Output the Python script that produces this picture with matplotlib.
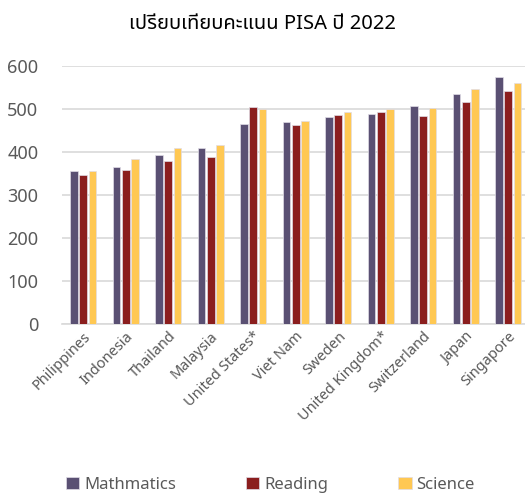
import matplotlib
matplotlib.use("Agg")
import matplotlib.pyplot as plt
import numpy as np

countries = ["Philippines", "Indonesia", "Thailand", "Malaysia", "United States*",
             "Viet Nam", "Sweden", "United Kingdom*", "Switzerland", "Japan", "Singapore"]
math = [355, 366, 394, 409, 465, 469, 482, 489, 508, 536, 575]
reading = [347, 359, 379, 388, 504, 462, 487, 494, 483, 516, 543]
science = [356, 383, 409, 416, 499, 472, 494, 500, 503, 547, 561]
names = ["Mathmatics", "Reading", "Science"]

plt.rcParams['font.family'] = ['Noto Sans Thai', 'DejaVu Sans']

fig = plt.figure(figsize=(5.25, 4.93), dpi=100)
ax = fig.add_axes([62/525, 1-324/493, 467.5/525, 258/493])

x = np.arange(len(countries))
w = 0.18
step = 0.22
cols = ["#5A5073", "#8B1E1E", "#FFC853"]
for i, (vals, c, n) in enumerate(zip([math, reading, science], cols, names)):
    ax.bar(x + (i-1)*step, vals, w, color=c, label=n, edgecolor="#e0dde6", linewidth=0.5, zorder=3)

ax.set_xlim(-0.5, len(countries)-0.5)
ax.set_ylim(0, 600)
ax.set_yticks(range(0, 601, 100))
ax.grid(axis="y", color="#d9d9d9", linewidth=1.2, zorder=0)
for s in ["top", "right", "left"]:
    ax.spines[s].set_visible(False)
ax.spines["bottom"].set_color("#d9d9d9")
ax.spines["bottom"].set_linewidth(1.2)
ax.tick_params(axis="both", length=0, colors="#595959")
ax.tick_params(axis="y", labelsize=13, pad=17)
ax.set_xticks(x)
ax.set_xticklabels(countries, rotation=45, ha="right", rotation_mode="anchor", fontsize=10.5)

fig.suptitle("เปรียบเทียบคะแนน PISA ปี 2022", y=0.972, fontsize=14.5)
fig.legend(loc="lower center", ncol=3, frameon=False, fontsize=12, bbox_to_anchor=(0.515, -0.03),
           handlelength=0.8, handleheight=0.8, columnspacing=4.2, handletextpad=0.3, labelcolor="#595959")
fig.savefig("out.png", dpi=100)
